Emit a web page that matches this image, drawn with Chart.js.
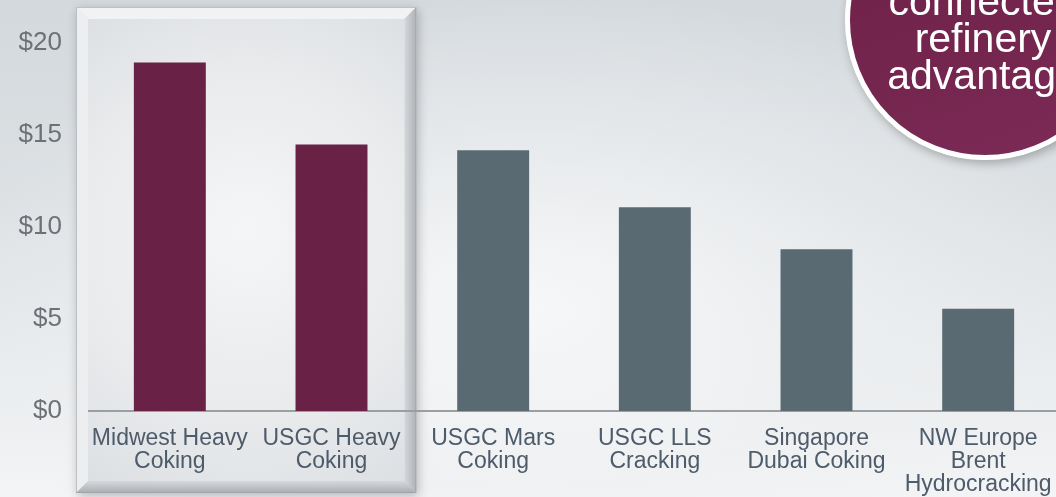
<!DOCTYPE html>
<html>
<head>
<meta charset="utf-8">
<script src="https://cdn.jsdelivr.net/npm/chart.js@4"></script>
<style>
  html, body { margin: 0; padding: 0; width: 1056px; height: 497px; overflow: hidden; }
  body {
    position: relative;
    background:
      radial-gradient(ellipse 70% 80% at 50% 62%, rgba(247,248,249,0.95) 0%, rgba(238,240,242,0.6) 45%, rgba(238,240,242,0) 80%),
      linear-gradient(180deg, #d4d9dd 0%, #dce0e3 40%, #e9ecee 75%, #f3f4f6 100%);
    font-family: "Liberation Sans", Arial, sans-serif;
  }
  #wrap { position: absolute; left: 0; top: 0; width: 1060px; height: 497px; }
  #badge {
    position: absolute; left: 845px; top: -120px; width: 280px; height: 280px;
    border-radius: 50%; box-sizing: border-box; border: 5px solid #ffffff;
    background: linear-gradient(160deg, #6c2048 0%, #75264f 60%, #7c2b56 100%);
    box-shadow: 2px 4px 10px rgba(0,0,0,0.25);
  }
  #badgeText {
    position: absolute; left: 833px; top: -17px; width: 300px;
    color: #ffffff; font-size: 41px; line-height: 37px; text-align: center;
    font-family: "Liberation Sans", Arial, sans-serif;
  }
</style>
</head>
<body>
<div id="wrap"><canvas id="c"></canvas></div>
<div id="badge"></div>
<div id="badgeText">connected<br>refinery<br>advantage</div>
<script>
const categories = [
  ["Midwest Heavy", "Coking"],
  ["USGC Heavy", "Coking"],
  ["USGC Mars", "Coking"],
  ["USGC LLS", "Cracking"],
  ["Singapore", "Dubai Coking"],
  ["NW Europe", "Brent", "Hydrocracking"]
];
const margins = [18.92, 14.47, 14.15, 11.06, 8.78, 5.55];
const highlighted = [true, true, false, false, false, false];
const tickValues = [0, 5, 10, 15, 20];
const maroon = "#6a2146";
const slate = "#5a6a72";

const highlightBox = {
  id: "highlightBox",
  beforeDraw(chart) {
    const x = chart.scales.x;
    const ctx = chart.ctx;
    const step = x.getPixelForValue(1) - x.getPixelForValue(0);
    const L = x.left - 13, R = x.getPixelForValue(1) + step / 2 + 4;
    const T = 7, B = 493, b = 12;
    ctx.save();
    ctx.shadowColor = "rgba(0,0,0,0.25)";
    ctx.shadowBlur = 10;
    ctx.shadowOffsetX = 2;
    ctx.shadowOffsetY = 3;
    ctx.fillStyle = "#e2e5e7";
    ctx.fillRect(L, T, R - L, B - T);
    ctx.restore();
    ctx.save();
    ctx.fillStyle = "#f1f2f3";
    ctx.beginPath(); ctx.moveTo(L, T); ctx.lineTo(R, T); ctx.lineTo(R - b, T + b); ctx.lineTo(L + b, T + b); ctx.closePath(); ctx.fill();
    ctx.fillStyle = "#eceef0";
    ctx.beginPath(); ctx.moveTo(L, T); ctx.lineTo(L + b, T + b); ctx.lineTo(L + b, B - b); ctx.lineTo(L, B); ctx.closePath(); ctx.fill();
    let g = ctx.createLinearGradient(R - b, 0, R, 0);
    g.addColorStop(0, "#d5d8db"); g.addColorStop(1, "#aeb2b6");
    ctx.fillStyle = g;
    ctx.beginPath(); ctx.moveTo(R, T); ctx.lineTo(R, B); ctx.lineTo(R - b, B - b); ctx.lineTo(R - b, T + b); ctx.closePath(); ctx.fill();
    g = ctx.createLinearGradient(0, B - b, 0, B);
    g.addColorStop(0, "#d6d9dc"); g.addColorStop(1, "#a9adb1");
    ctx.fillStyle = g;
    ctx.beginPath(); ctx.moveTo(L, B); ctx.lineTo(R, B); ctx.lineTo(R - b, B - b); ctx.lineTo(L + b, B - b); ctx.closePath(); ctx.fill();
    const cx = (L + R) / 2, cy = (T + B) / 2;
    g = ctx.createRadialGradient(cx, cy - 20, 10, cx, cy, 290);
    g.addColorStop(0, "#f4f5f6"); g.addColorStop(0.6, "#e8eaec"); g.addColorStop(1, "#dcdfe2");
    ctx.fillStyle = g;
    ctx.fillRect(L + b, T + b, R - L - 2 * b, B - T - 2 * b);
    ctx.strokeStyle = "rgba(150,154,158,0.55)";
    ctx.lineWidth = 1;
    ctx.strokeRect(L + 0.5, T + 0.5, R - L - 1, B - T - 1);
    ctx.restore();
  }
};

new Chart(document.getElementById("c"), {
  type: "bar",
  data: {
    labels: categories,
    datasets: [{
      data: margins,
      backgroundColor: highlighted.map(h => h ? maroon : slate),
      borderWidth: 0,
      barPercentage: 0.445,
      categoryPercentage: 1.0
    }]
  },
  options: {
    responsive: true,
    maintainAspectRatio: false,
    animation: false,
    devicePixelRatio: 1,
    layout: { padding: { top: 42, right: 1, bottom: 0, left: 0 } },
    plugins: { legend: { display: false }, tooltip: { enabled: false } },
    scales: {
      x: {
        grid: { display: false, drawTicks: false },
        border: { display: true, color: "#9c9fa2", width: 2 },
        ticks: {
          color: "#4e5b6a",
          font: { family: "Liberation Sans", size: 23, lineHeight: 1.0 },
          padding: 16,
          maxRotation: 0,
          autoSkip: false
        },
        afterFit(scale) { scale.height = 86; scale.paddingLeft = 0; scale.paddingRight = 0; }
      },
      y: {
        min: 0, max: 20,
        afterBuildTicks(scale) { scale.ticks = tickValues.map(v => ({ value: v })); },
        grid: { display: false, drawTicks: false },
        border: { display: false },
        ticks: {
          color: "#6d7175",
          font: { family: "Liberation Sans", size: 26 },
          padding: 27,
          callback: v => "$" + v
        },
        afterFit(scale) { scale.width = 89; }
      }
    }
  },
  plugins: [highlightBox]
});
</script>
</body>
</html>
